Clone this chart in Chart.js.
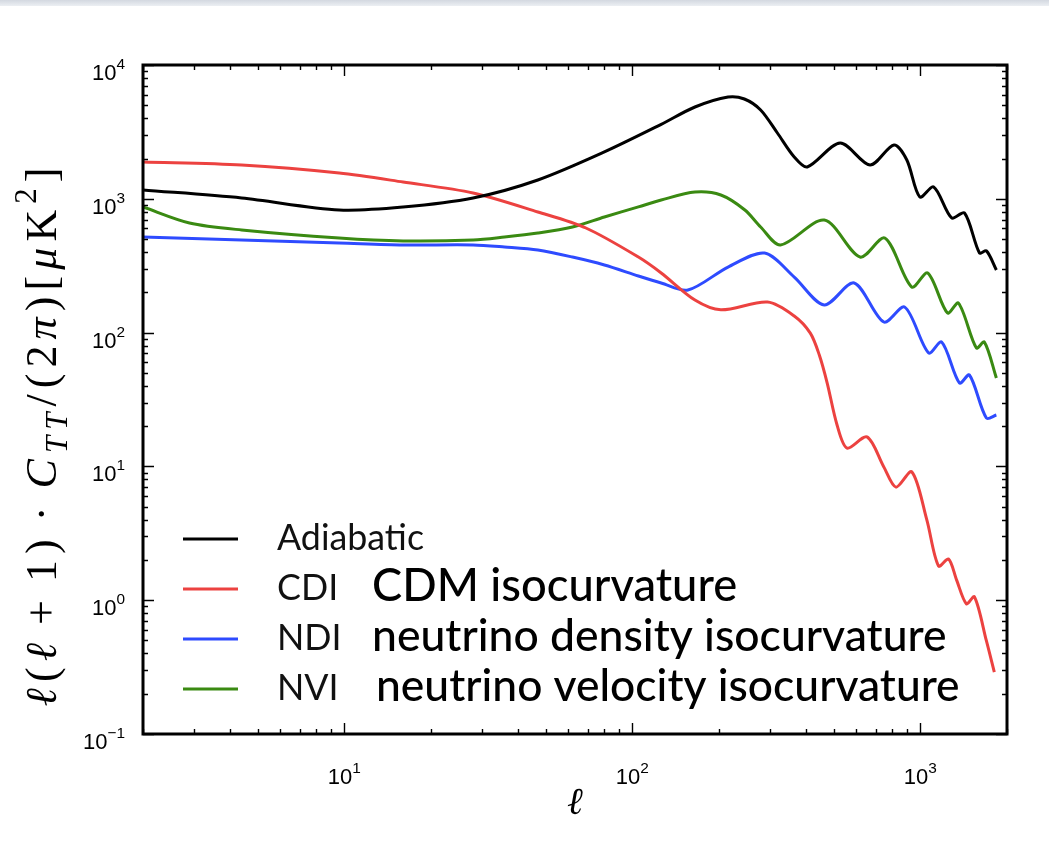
<!DOCTYPE html>
<html>
<head>
<meta charset="utf-8">
<script src="https://cdn.jsdelivr.net/npm/chart.js@4.4.0/dist/chart.umd.min.js"></script>
<style>
  html, body { margin: 0; padding: 0; background: #fff; }
  #wrap { position: relative; width: 1049px; height: 868px; }
  #bar { position: absolute; left: 0; top: 0; width: 1049px; height: 6px; background: linear-gradient(#d3d8e0, #eceff3); }
</style>
</head>
<body>
<div id="wrap">
  <canvas id="myChart" width="1049" height="868"></canvas>
  <div id="bar"></div>
</div>
<script>
const ctx = document.getElementById('myChart');

// multipole l and l(l+1)C_l/2pi [uK^2]
const adiabaticL = [2, 4.4, 9.6, 16, 28, 47, 80, 126, 165, 215, 245, 279, 319, 365, 405, 527, 669, 810, 898, 996, 1113, 1285, 1424, 1605, 1697, 1837];
const adiabaticV = [1164, 1014, 825, 868, 1014, 1382, 2240, 3600, 4854, 5765, 5570, 4611, 3103, 2053, 1729, 2612, 1789, 2524, 1950, 1031, 1225, 719, 783, 394, 408, 294];

const cdiL = [2, 4.4, 9.6, 16, 28, 47, 69, 105, 126, 165, 203, 295, 365, 415, 446, 475, 514, 557, 653, 747, 823, 934, 1053, 1157, 1253, 1336, 1446, 1541, 1695, 1807];
const cdiV = [1884, 1789, 1559, 1335, 1105, 797, 605, 367, 279, 175, 148, 169, 133, 99, 68, 42, 20.4, 13.7, 16.6, 9.9, 7.0, 9.1, 4.0, 1.80, 2.03, 1.42, 0.94, 1.06, 0.50, 0.29];

const ndiL = [2, 4.4, 9.6, 16, 28, 36, 47, 62, 80, 105, 126, 156, 215, 288, 365, 464, 589, 747, 883, 1069, 1186, 1368, 1481, 1696, 1837];
const ndiV = [518, 492, 468, 452, 452, 436, 414, 367, 320, 265, 235, 208, 309, 393, 260, 161, 235, 120, 155, 70.4, 85.1, 42.0, 48.2, 23.0, 24.2];

const nviL = [2, 2.9, 4.4, 9.6, 16, 28, 36, 47, 62, 80, 105, 126, 165, 203, 246, 279, 327, 464, 618, 753, 934, 1061, 1243, 1357, 1566, 1669, 1837];
const nviV = [868, 659, 585, 509, 484, 492, 518, 555, 616, 731, 870, 980, 1124, 1068, 825, 616, 452, 694, 367, 509, 219, 279, 140, 166, 76.7, 85, 45.8];

const seriesNames = ['Adiabatic', 'CDI', 'NDI', 'NVI'];
const seriesNotes = ['', 'CDM isocurvature', 'neutrino density isocurvature', 'neutrino velocity isocurvature'];

const xRange = [2, 2000];
const yRange = [0.1, 10000];
const xTickExps = [1, 2, 3];
const yTickExps = [-1, 0, 1, 2, 3, 4];

const toPoints = (xs, ys) => xs.map((x, i) => ({ x: x, y: ys[i] }));

// text made of runs: {t, it (italic), pos (1 sup, -1 sub)} or {gap: true}
function runFont(r, size, family, weight) {
  const s = r.pos ? size * 0.7 : size;
  return (r.it ? 'italic ' : '') + (weight || '') + ' ' + s.toFixed(1) + 'px ' + family;
}
function runsWidth(c, runs, size, family, weight) {
  let w = 0;
  runs.forEach(r => {
    if (r.gap) return;
    c.font = runFont(r, size, family, weight);
    w += c.measureText(r.t).width;
  });
  return w;
}
const charCount = runs => runs.reduce((n, r) => n + (r.gap ? 0 : r.t.length), 0);
// draws char by char so that a small tracking can be added
function drawRuns(c, runs, size, family, x, y, supShift, gapPx, track) {
  runs.forEach(r => {
    if (r.gap) { x += gapPx || 0; return; }
    c.font = runFont(r, size, family);
    const dy = r.pos > 0 ? -size * supShift : r.pos < 0 ? size * 0.25 : 0;
    for (const ch of r.t) {
      c.fillText(ch, x, y + dy);
      x += c.measureText(ch).width + (track || 0);
    }
  });
}
function fitSize(c, runs, family, target, weight) {
  return 100 * target / runsWidth(c, runs, 100, family, weight);
}
const expText = e => (e < 0 ? '\u2212' + (-e) : String(e));

const axesPlugin = {
  id: 'axesPlugin',
  afterDatasetsDraw(chart) {
    const c = chart.ctx;
    const { left, right, top, bottom } = chart.chartArea;
    const xs = chart.scales.x, ys = chart.scales.y;
    c.save();
    c.strokeStyle = '#000';
    c.fillStyle = '#000';
    c.lineCap = 'butt';

    // ticks inside the box, on all four sides
    c.lineWidth = 1.4;
    c.beginPath();
    for (let e = 0; e <= 3; e++) {
      for (let m = 1; m <= 9; m++) {
        const v = m * Math.pow(10, e);
        if (v < xRange[0] || v > xRange[1]) continue;
        const p = Math.round(xs.getPixelForValue(v)) + 0.5;
        const len = m === 1 ? 11 : 5;
        c.moveTo(p, bottom); c.lineTo(p, bottom - len);
        c.moveTo(p, top); c.lineTo(p, top + len);
      }
    }
    for (let e = -1; e <= 4; e++) {
      for (let m = 1; m <= 9; m++) {
        const v = m * Math.pow(10, e);
        if (v < yRange[0] || v > yRange[1]) continue;
        const p = Math.round(ys.getPixelForValue(v)) + 0.5;
        const len = m === 1 ? 11 : 5;
        c.moveTo(left, p); c.lineTo(left + len, p);
        c.moveTo(right, p); c.lineTo(right - len, p);
      }
    }
    c.stroke();

    // frame
    c.lineWidth = 3;
    c.strokeRect(left, top, right - left, bottom - top);

    // tick labels
    const tf = '"Liberation Sans", sans-serif';
    const ts = 22;
    c.textAlign = 'left';
    c.textBaseline = 'alphabetic';
    yTickExps.forEach(e => {
      const p = ys.getPixelForValue(Math.pow(10, e));
      const runs = [{ t: '10' }, { t: expText(e), pos: 1 }];
      const w = runsWidth(c, runs, ts, tf);
      drawRuns(c, runs, ts, tf, left - 18 - w, p + 15, 0.5);
    });
    xTickExps.forEach(e => {
      const p = xs.getPixelForValue(Math.pow(10, e));
      const runs = [{ t: '10' }, { t: expText(e), pos: 1 }];
      const w = runsWidth(c, runs, ts, tf);
      drawRuns(c, runs, ts, tf, p - w / 2, bottom + 50, 0.5);
    });

    // axis titles
    const mf = '"Liberation Serif", "DejaVu Serif", serif';
    c.font = 'italic 38px ' + mf;
    c.textAlign = 'center';
    c.fillText('\u2113', (left + right) / 2, 814);
    c.textAlign = 'left';

    const yt = [
      { t: '\u2113', it: true }, { t: '(' }, { t: '\u2113', it: true }, { gap: true }, { t: '+' }, { gap: true },
      { t: '1)' }, { gap: true }, { t: '\u00b7' }, { gap: true },
      { t: 'C', it: true }, { t: 'TT', it: true, pos: -1 }, { t: '/(2' }, { t: '\u03c0', it: true },
      { t: ')[' }, { t: '\u03bc', it: true }, { t: 'K' }, { t: '2', pos: 1 }, { t: ']' }
    ];
    const gapPx = 12;
    const ysz = 44;
    const yw0 = runsWidth(c, yt, ysz, mf);
    const track = Math.max(0, (545 - 4 * gapPx - yw0) / charCount(yt));
    const yw = yw0 + 4 * gapPx + track * charCount(yt);
    c.save();
    c.translate(41, 434);
    c.rotate(-Math.PI / 2);
    drawRuns(c, yt, ysz, mf, -yw / 2, ysz * 0.33, 0.45, gapPx, track);
    c.restore();

    // legend, inside the box at lower left
    const lf = 'Lato, sans-serif';
    const labelSize = fitSize(c, [{ t: seriesNames[0] }], lf, 147);
    chart.data.datasets.forEach((ds, i) => {
      const y = 539 + i * 50;
      c.strokeStyle = ds.borderColor;
      c.lineWidth = 3;
      c.beginPath();
      c.moveTo(183, y); c.lineTo(238, y);
      c.stroke();
      c.fillStyle = '#111';
      c.font = labelSize.toFixed(1) + 'px ' + lf;
      c.fillText(ds.label, 277, y + 11);
      if (seriesNotes[i]) {
        const target = [0, 365, 574, 584][i];
        const ns = fitSize(c, [{ t: seriesNotes[i] }], lf, target, '500');
        c.fillStyle = '#000';
        c.font = '500 ' + ns.toFixed(1) + 'px ' + lf;
        c.fillText(seriesNotes[i], i === 3 ? 376 : 372, y + 12);
      }
    });
    c.restore();
  }
};

const lineStyle = color => ({
  borderColor: color,
  backgroundColor: color,
  borderWidth: 3,
  pointRadius: 0,
  fill: false,
  tension: 0.3
});

const myChart = new Chart(ctx, {
  type: 'line',
  data: {
    datasets: [
      Object.assign({ label: seriesNames[0], data: toPoints(adiabaticL, adiabaticV) }, lineStyle('#000000')),
      Object.assign({ label: seriesNames[1], data: toPoints(cdiL, cdiV) }, lineStyle('#ec4240')),
      Object.assign({ label: seriesNames[2], data: toPoints(ndiL, ndiV) }, lineStyle('#2e4bff')),
      Object.assign({ label: seriesNames[3], data: toPoints(nviL, nviV) }, lineStyle('#3a8a12'))
    ]
  },
  options: {
    responsive: false,
    animation: false,
    layout: { padding: { left: 143, top: 65, right: 42, bottom: 134 } },
    plugins: {
      legend: { display: false },
      tooltip: { enabled: false }
    },
    scales: {
      x: { type: 'logarithmic', min: xRange[0], max: xRange[1], display: false },
      y: { type: 'logarithmic', min: yRange[0], max: yRange[1], display: false }
    }
  },
  plugins: [axesPlugin]
});
</script>
</body>
</html>
